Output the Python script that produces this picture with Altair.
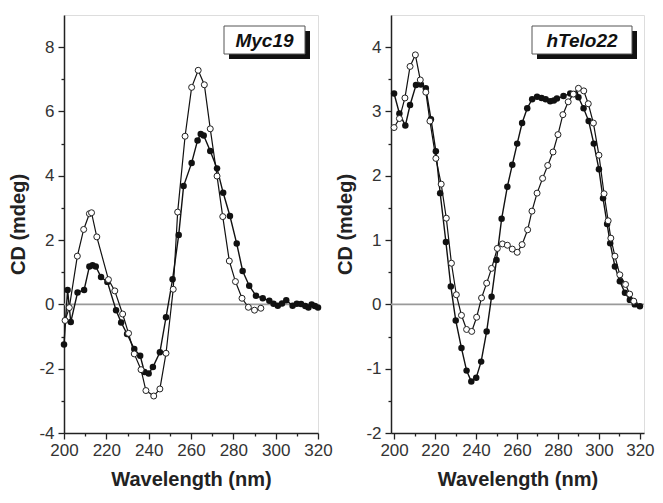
import altair as alt
import pandas as pd

# ---------------- data ----------------
myc_filled_wl = [200, 201.7, 203.2, 206.4, 209.5, 212, 213.5, 215, 217.5, 220.5, 224.6, 227,
                 229.8, 233.2, 236, 238, 240, 242, 245.3, 248.2, 251.3, 254.2, 256.5, 260.3,
                 263.1, 264.6, 266, 269.1, 272.3, 275.2, 278.4, 281.6, 284.4, 287.5, 290.7,
                 293.9, 297, 299, 301, 303, 305, 308, 310, 312, 314, 315.5, 317, 318.5, 320]
myc_filled_cd = [-1.25, 0.45, -0.55, 0.37, 0.45, 1.18, 1.22, 1.18, 0.85, 0.7, -0.18, -0.56,
                 -0.92, -1.39, -1.6, -2.1, -2.15, -1.95, -1.49, -0.4, 0.78, 2.16, 3.68, 4.4,
                 5.1, 5.3, 5.25, 4.77, 4.23, 3.47, 2.75, 1.89, 1.04, 0.58, 0.27,
                 0.19, 0.11, 0.02, -0.04, 0.03, 0.13, -0.04, 0.02, 0.01, -0.05, -0.1, 0.0, -0.05, -0.1]

myc_open_wl = [200.5, 202.5, 206.3, 209.3, 212, 213, 215.5, 221, 224, 227.7, 230.5, 233.2,
               236.4, 238.7, 242.4, 245.3, 248.2, 251.6, 253.7, 257.2, 260.3, 263.4, 266.3,
               269.1, 272.3, 275, 278.1, 281, 284.1, 287.1, 290, 293]
myc_open_cd = [-0.5, -0.1, 1.5, 2.33, 2.82, 2.85, 2.1, 0.77, 0.42, -0.3, -0.9, -1.54,
               -2.03, -2.68, -2.85, -2.63, -1.52, 0.47, 2.87, 5.23, 6.75, 7.28, 6.83,
               5.46, 3.99, 2.73, 1.35, 0.71, 0.19, -0.09, -0.18, -0.12]

tel_filled_wl = [200, 202.6, 205.5, 207.8, 210.7, 213.1, 215.5, 218, 220.4, 222.5, 225.3, 227.7,
                 230.1, 232.9, 235.4, 237.7, 240.1, 242.5, 245.2, 247.6, 250, 252.5, 255.3,
                 257.7, 260.1, 262.5, 265, 267.4, 269.8, 272, 274, 276.2, 278, 279.5, 282.7,
                 286, 288.4, 290, 292.5, 295, 297.5, 300, 302, 304, 305.5, 307.8, 310.2,
                 312.7, 315.1, 317.5, 320]
tel_filled_cd = [3.28, 2.97, 2.78, 3.1, 3.41, 3.42, 3.36, 2.88, 2.38, 1.73, 0.97, 0.28,
                 -0.25, -0.68, -1.03, -1.2, -1.14, -0.89, -0.42, 0.12, 0.69, 1.33, 1.83,
                 2.17, 2.5, 2.82, 3.05, 3.19, 3.23, 3.21, 3.19, 3.16, 3.17, 3.2, 3.24,
                 3.28, 3.27, 3.22, 3.05, 2.85, 2.5, 2.1, 1.65, 1.25, 0.95, 0.59, 0.36,
                 0.18, 0.07, 0.0, -0.03]

tel_open_wl = [200, 202.6, 205.3, 207.8, 210.4, 212.8, 215.5, 217.5, 220.4, 223, 225.5, 228,
               230.4, 232.9, 235.4, 237.9, 240.3, 242.7, 245.2, 247.6, 250.4, 252.9, 255.3,
               257.7, 260.1, 262.5, 265.2, 267.3, 269.8, 272.5, 275, 277.6, 280, 282.4, 285,
               287.5, 290, 292.6, 294.8, 297.3, 300, 302.5, 304.5, 305.8, 307.8, 310.2, 313,
               315, 317]
tel_open_cd = [2.75, 2.89, 3.21, 3.7, 3.88, 3.49, 3.3, 2.85, 2.27, 1.87, 1.34, 0.64,
               0.15, -0.17, -0.39, -0.42, -0.2, 0.1, 0.33, 0.56, 0.87, 0.94, 0.92,
               0.86, 0.81, 0.93, 1.16, 1.45, 1.73, 1.96, 2.16, 2.37, 2.64, 2.95, 3.15,
               3.27, 3.36, 3.32, 3.12, 2.82, 2.32, 1.72, 1.3, 1.03, 0.75, 0.46, 0.31,
               0.16, 0.05]

FONT = "Liberation Sans"


def x_axis():
    return alt.Axis(
        values=list(range(200, 321, 10)),
        labelExpr="datum.value % 20 == 0 ? toString(datum.value) : ''",
        tickSize={"condition": {"test": "datum.value % 20 == 0", "value": 6}, "value": 3},
        title="Wavelength (nm)", grid=False, labelFlush=False, labelOverlap=False,
        labelFontSize=17, labelFont=FONT, labelColor="#333", labelPadding=3,
        titleFontSize=20, titleFont=FONT, titleFontWeight="bold", titleColor="#222",
        titlePadding=11, domainColor="#222", domainWidth=1.5, tickColor="#222", tickWidth=1.3,
    )


def y_axis(vals, major_expr):
    return alt.Axis(
        values=vals,
        labelExpr=f"({major_expr}) ? toString(datum.value) : ''",
        tickSize={"condition": {"test": major_expr, "value": 6}, "value": 3},
        title="CD (mdeg)", grid=False, labelFlush=False, labelOverlap=False,
        labelFontSize=17, labelFont=FONT, labelColor="#333", labelPadding=4,
        titleFontSize=20, titleFont=FONT, titleFontWeight="bold", titleColor="#222",
        titlePadding=10, domainColor="#222", domainWidth=1.5, tickColor="#222", tickWidth=1.3,
    )


def panel(fw, fc, ow, oc, xdom, ydom, yvals, major_expr, label, box, width):
    xs = alt.Scale(domain=xdom, nice=False, zero=False)
    ys = alt.Scale(domain=ydom, nice=False, zero=False)
    filled = pd.DataFrame({"wl": fw, "cd": fc})
    opened = pd.DataFrame({"wl": ow, "cd": oc})

    zero = alt.Chart(pd.DataFrame({"z": [0]})).mark_rule(color="#9a9a9a", strokeWidth=1.6).encode(
        y=alt.Y("z:Q", scale=ys, axis=y_axis(yvals, major_expr)),
        x=alt.value(0), x2=alt.value("width"),
    )
    base_f = alt.Chart(filled).encode(
        x=alt.X("wl:Q", scale=xs, axis=x_axis()),
        y=alt.Y("cd:Q", scale=ys, axis=y_axis(yvals, major_expr)),
    )
    base_o = alt.Chart(opened).encode(
        x=alt.X("wl:Q", scale=xs, axis=x_axis()),
        y=alt.Y("cd:Q", scale=ys, axis=y_axis(yvals, major_expr)),
    )
    fl = base_f.mark_line(color="#111", strokeWidth=1.4)
    fp = base_f.mark_point(filled=True, color="#111", size=42, opacity=1)
    ol = base_o.mark_line(color="#111", strokeWidth=1.2)
    op = base_o.mark_point(shape="circle", fill="white", stroke="#222", strokeWidth=1,
                           size=36, opacity=1, filled=False, fillOpacity=1)

    x0, x1, y0, y1 = box
    one = pd.DataFrame({"a": [0]})
    shadow = alt.Chart(one).mark_rect(color="#111").encode(
        x=alt.value(x0 + 5), x2=alt.value(x1 + 5), y=alt.value(y0 + 5), y2=alt.value(y1 + 5))
    frame = alt.Chart(one).mark_rect(fill="white", stroke="#555", strokeWidth=1).encode(
        x=alt.value(x0), x2=alt.value(x1), y=alt.value(y0), y2=alt.value(y1))
    txt = alt.Chart(one).mark_text(font=FONT, fontSize=19, fontWeight="bold", fontStyle="italic",
                                   color="#111", align="center", baseline="middle").encode(
        x=alt.value((x0 + x1) / 2), y=alt.value((y0 + y1) / 2 + 1), text=alt.value(label))

    return alt.layer(zero, fl, ol, fp, op, shadow, frame, txt).properties(width=width, height=418)


left = panel(myc_filled_wl, myc_filled_cd, myc_open_wl, myc_open_cd,
             [200, 320], [-4, 9], list(range(-4, 9)), "datum.value % 2 == 0",
             "Myc19", (160, 241, 11, 39), 254)
right = panel(tel_filled_wl, tel_filled_cd, tel_open_wl, tel_open_cd,
              [198.5, 322], [-2, 4.5], [v / 2 for v in range(-4, 9)], "datum.value % 1 == 0",
              "hTelo22", (141, 241, 11, 39), 253)

chart = alt.hconcat(left, right, spacing=73, bounds="flush").properties(
    padding={"left": 0, "top": 6, "right": 0, "bottom": 0}
).configure_view(stroke="#222", strokeWidth=1.5).configure(background="white")

chart.save("out.html", embed_options={"renderer": "svg", "actions": False})
